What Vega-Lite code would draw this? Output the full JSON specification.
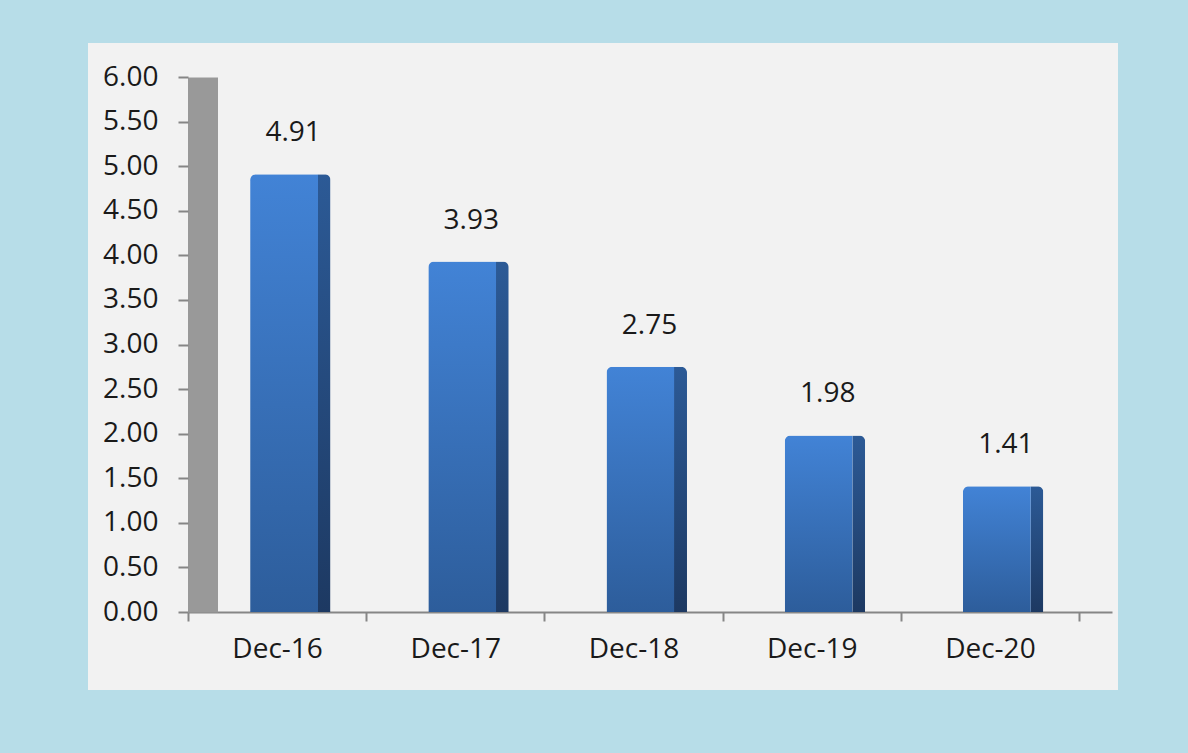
{
  "$schema": "https://vega.github.io/schema/vega-lite/v6.json",
  "autosize": "none",
  "width": 1030,
  "height": 647,
  "padding": {"left": 88, "top": 43, "right": 70, "bottom": 63},
  "background": "#b7dde8",
  "config": {
    "view": {"fill": "#f2f2f2", "stroke": null},
    "font": "Open Sans"
  },
  "data": {
    "values": [
      {"period": "Dec-16", "value": 4.91},
      {"period": "Dec-17", "value": 3.93},
      {"period": "Dec-18", "value": 2.75},
      {"period": "Dec-19", "value": 1.98},
      {"period": "Dec-20", "value": 1.41}
    ]
  },
  "encoding": {
    "x": {
      "field": "period",
      "type": "nominal",
      "sort": null,
      "scale": {"type": "band", "range": [100, 1024], "paddingInner": 0, "paddingOuter": 0.0926, "align": 0},
      "axis": {
        "title": null,
        "orient": "bottom",
        "offset": -78,
        "tickBand": "extent",
        "domainColor": "#868686",
        "domainWidth": 2,
        "tickColor": "#868686",
        "tickWidth": 2,
        "tickSize": 9,
        "labelAngle": 0,
        "labelFontSize": 28,
        "labelColor": "#1a1a1a",
        "labelPadding": 14,
        "labelFont": "Open Sans"
      }
    },
    "y": {
      "field": "value",
      "type": "quantitative",
      "scale": {"domain": [0, 6], "range": [569, 34], "nice": false, "zero": true}
    }
  },
  "resolve": {"axis": {"y": "independent"}},
  "layer": [
    {
      "mark": {
        "type": "bar",
        "width": 13,
        "xOffset": 47,
        "cornerRadiusTopRight": 6,
        "color": {
          "gradient": "linear", "x1": 0, "y1": 0, "x2": 0, "y2": 1,
          "stops": [{"offset": 0, "color": "#2c5a96"}, {"offset": 1, "color": "#1d3962"}]
        }
      },
      "encoding": {
        "y": {
          "field": "value",
          "type": "quantitative",
          "axis": {
            "title": null,
            "orient": "left",
            "offset": -114.5,
            "grid": false,
            "ticks": false,
            "labels": false,
            "domainColor": "#999999",
            "domainWidth": 30,
            "domainCap": "butt"
          }
        }
      }
    },
    {
      "mark": {
        "type": "bar",
        "width": 68,
        "xOffset": 7,
        "cornerRadiusTopLeft": 6,
        "color": {
          "gradient": "linear", "x1": 0, "y1": 0, "x2": 0, "y2": 1,
          "stops": [{"offset": 0, "color": "#4283d6"}, {"offset": 1, "color": "#2d5d9b"}]
        }
      },
      "encoding": {
        "y": {
          "field": "value",
          "type": "quantitative",
          "axis": {
            "title": null,
            "orient": "left",
            "offset": -100,
            "values": [0, 0.5, 1, 1.5, 2, 2.5, 3, 3.5, 4, 4.5, 5, 5.5, 6],
            "format": ".2f",
            "grid": false,
            "domain": false,
            "tickColor": "#868686",
            "tickWidth": 2,
            "tickSize": 10,
            "labelFontSize": 28,
            "labelColor": "#1a1a1a",
            "labelPadding": 20,
            "labelFont": "Open Sans"
          }
        }
      }
    },
    {
      "mark": {
        "type": "text",
        "xOffset": 16,
        "dy": -33,
        "baseline": "alphabetic",
        "align": "center",
        "fontSize": 28,
        "color": "#1a1a1a",
        "font": "Open Sans"
      },
      "encoding": {
        "y": {"field": "value", "type": "quantitative", "axis": null},
        "text": {"field": "value", "type": "quantitative", "format": ".2f"}
      }
    }
  ]
}
